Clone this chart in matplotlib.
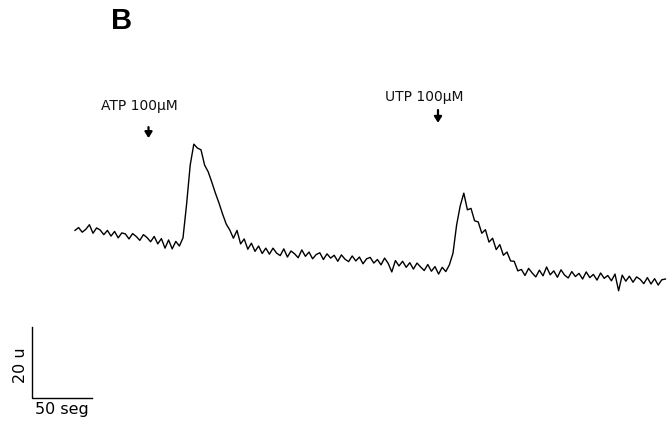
import numpy as np
import matplotlib
matplotlib.use('Agg')
import matplotlib.pyplot as plt

# fluorescence trace, sampled every 3 s (arbitrary units)
dt_s = 3
trace_u = [
    # resting, 0-87 s
    19.6, 20.4, 19.1, 19.9, 21.2, 18.8, 20.3, 19.7, 18.4, 19.6,
    18.0, 19.3, 17.5, 18.9, 18.6, 17.2, 18.7, 17.9, 16.8, 18.4,
    17.6, 16.4, 17.9, 15.8, 17.3, 14.6, 16.9, 14.4, 16.5, 15.2,
    # ATP response, 90-159 s
    17.5, 27.0, 38.0, 43.9, 42.8, 42.3, 38.0, 36.1, 33.2, 30.1,
    27.3, 24.2, 21.4, 19.7, 17.4, 19.6, 15.8, 17.2, 14.3, 16.0,
    13.7, 15.2, 13.1, 14.6,
    # recovery baseline, 162-309 s
    12.9, 14.6, 13.2, 12.5, 14.4, 12.1, 13.8, 13.0, 11.9, 14.1,
    12.3, 13.5, 11.6, 12.8, 13.3, 11.4, 13.0, 11.8, 12.6, 10.9,
    12.7, 11.5, 10.8, 12.4, 11.0, 12.1, 10.2, 11.6, 12.0, 10.4,
    11.4, 9.9, 11.8, 10.3, 7.9, 11.1, 9.6, 10.9, 9.2, 10.5,
    8.7, 10.4, 9.3, 8.3, 10.0, 8.1, 9.4, 7.3, 9.2, 8.0,
    # UTP response, 312-369 s
    9.9, 13.2, 21.1, 26.5, 30.1, 25.4, 25.8, 22.3, 22.0, 18.8,
    19.8, 16.3, 17.4, 14.2, 15.6, 12.6, 13.5, 11.0, 10.9, 8.2,
    # late baseline, 372-492 s
    8.6, 6.9, 8.9, 7.6, 6.5, 8.4, 6.8, 9.3, 7.1, 8.2,
    6.4, 8.5, 7.0, 6.2, 8.0, 6.6, 7.5, 5.9, 7.9, 6.3,
    7.2, 5.6, 7.6, 6.1, 6.9, 5.4, 7.3, 2.6, 7.0, 5.3,
    6.7, 5.0, 6.5, 5.8, 4.6, 6.3, 4.5, 6.0, 4.2, 5.7,
    5.9,
]
time_s = np.arange(len(trace_u)) * dt_s

stim_labels = ['ATP 100\u00b5M', 'UTP 100\u00b5M']
stim_times = [61.25, 302.5]

fig = plt.figure(figsize=(6.69, 4.28), dpi=100)
ax = fig.add_axes([0, 0, 1, 1])
ax.set_xlim(-62.5, 495)
ax.set_ylim(-36.06, 84.5)
ax.axis('off')

ax.plot(time_s, trace_u, color='black', lw=1.0)

# stimulus markers
label_pos = [(53.75, 53.6), (290.8, 56.1)]
arrow_y = [(48.7, 45.6), (53.5, 49.9)]
for lab, t, (lx, ly), (y0, y1) in zip(stim_labels, stim_times, label_pos, arrow_y):
    ax.text(lx, ly, lab, ha='center', va='baseline', fontsize=10,
            family='DejaVu Sans', color='#111111')
    ax.annotate('', xy=(t, y1), xytext=(t, y0),
                arrowprops=dict(arrowstyle='-|>,head_width=0.22,head_length=0.35',
                                lw=1.6, color='black', shrinkA=0, shrinkB=0))

# scale bar: 50 s x 20 u
x0, y0 = -35.8, -27.6
ax.plot([x0, x0, x0 + 50], [y0 + 20, y0, y0], color='black', lw=1.0,
        solid_joinstyle='miter')
ax.text(x0 - 9.5, y0 + 9.3, '20 u', rotation=90, ha='center', va='center',
        fontsize=11.5, family='DejaVu Sans')
ax.text(x0 + 24.5, y0 - 1.2, '50 seg', ha='center', va='top',
        fontsize=11.5, family='DejaVu Sans')

ax.text(39.2, 78.6, 'B', ha='center', va='center', fontsize=21,
        fontweight='bold', family='Liberation Sans')

fig.savefig('out.png', dpi=100)
